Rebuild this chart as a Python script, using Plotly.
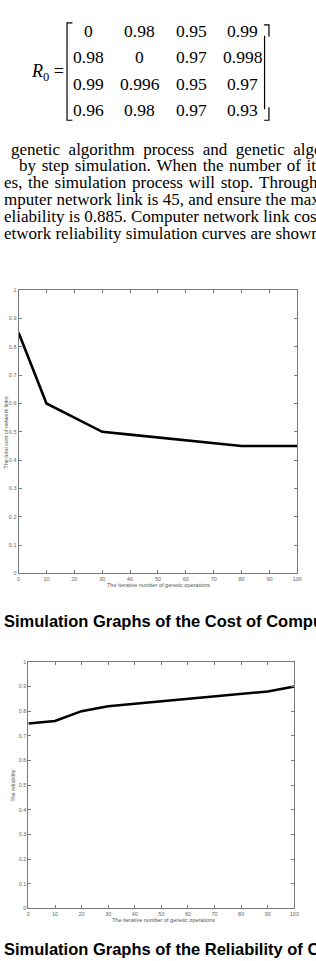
import plotly.graph_objects as go

W, H = 316, 961

# ---- data ----
iterations = [0, 10, 20, 30, 40, 50, 60, 70, 80, 90, 100]
cost = [0.85, 0.60, 0.55, 0.50, 0.49, 0.48, 0.47, 0.46, 0.45, 0.45, 0.45]
reliability = [0.75, 0.76, 0.80, 0.82, 0.83, 0.84, 0.85, 0.86, 0.87, 0.88, 0.90]
x_ticks = [0, 10, 20, 30, 40, 50, 60, 70, 80, 90, 100]
y_ticks = [0, 0.1, 0.2, 0.3, 0.4, 0.5, 0.6, 0.7, 0.8, 0.9, 1]

R0 = [["0", "0.98", "0.95", "0.99"],
      ["0.98", "0", "0.97", "0.998"],
      ["0.99", "0.996", "0.95", "0.97"],
      ["0.96", "0.98", "0.97", "0.93"]]

WIDE = "\u00a0\u00a0"
MID = "\u00a0\u200a"
paragraph = [
    WIDE.join("genetic algorithm process and genetic algorithm".split()),
    MID.join("by step simulation. When the number of iterations".split()),
    MID.join("es, the simulation process will stop. Through".split()),
    "mputer network link is 45, and ensure the maximum",
    "eliability is 0.885. Computer network link cost",
    "etwork reliability simulation curves are shown",
]
para_x = [7, 15, 0, 0, 0, 0]

caption1 = "Simulation Graphs of the Cost of Computer Network Links"
caption2 = "Simulation Graphs of the Reliability of Computer Network"
xtitle = "The iterative number of genetic operations"
ytitle1 = "The total cost of network links"
ytitle2 = "The reliability"


def px(x):
    return x / W


def py(y):
    return 1 - y / H


SERIF = "Liberation Serif"
SANS = "Liberation Sans"
AXC = "#7a7a7a"

fig = go.Figure()
fig.add_trace(go.Scatter(x=iterations, y=cost, mode="lines",
                         line=dict(color="black", width=2.6),
                         xaxis="x", yaxis="y", showlegend=False))
fig.add_trace(go.Scatter(x=iterations, y=reliability, mode="lines",
                         line=dict(color="black", width=2.6),
                         xaxis="x2", yaxis="y2", showlegend=False))


def axis(rng, dom, anchor, vals):
    return dict(range=rng, domain=dom, anchor=anchor, showline=True,
                linecolor=AXC, linewidth=1, mirror="ticks", ticks="inside",
                ticklen=3, tickcolor=AXC, tickvals=vals,
                tickfont=dict(size=5.5, color="#666", family=SANS),
                showgrid=False, zeroline=False, fixedrange=True)


annotations = []

# matrix
annotations.append(dict(x=px(47), y=py(70), xref="paper", yref="paper",
                        text="<i>R</i><sub>0</sub> =", showarrow=False,
                        font=dict(family=SERIF, size=18, color="black"),
                        xanchor="center", yanchor="middle"))
for i, row in enumerate(R0):
    for j, v in enumerate(row):
        annotations.append(dict(x=px(88 + 52.7 * j), y=py(28 + 26.6 * i),
                                xref="paper", yref="paper", text=v,
                                showarrow=False,
                                font=dict(family=SERIF, size=17.5, color="black"),
                                xanchor="center", yanchor="middle"))

# paragraph
for k, line in enumerate(paragraph):
    annotations.append(dict(x=px(para_x[k]), y=py(147 + 17 * k), xref="paper",
                            yref="paper", text=line, showarrow=False,
                            font=dict(family=SERIF, size=17, color="black"),
                            xanchor="left", yanchor="middle"))

# axis titles
annotations += [
    dict(x=px(160), y=py(586), text=xtitle, font=dict(size=5.5, family=SANS, color="#555")),
    dict(x=px(165), y=py(923), text=xtitle, font=dict(size=5.5, family=SANS, color="#555")),
    dict(x=px(4.5), y=py(432), text=ytitle1, textangle=-90,
         font=dict(size=5.5, family=SANS, color="#555")),
    dict(x=px(11), y=py(787), text=ytitle2, textangle=-90,
         font=dict(size=5.5, family=SANS, color="#555")),
]
for a in annotations[-4:]:
    a.update(xref="paper", yref="paper", showarrow=False,
             xanchor="center", yanchor="middle")

# captions
for cap, yy in [(caption1, 622), (caption2, 952)]:
    annotations.append(dict(x=0, y=py(yy), xref="paper", yref="paper",
                            text="<b>" + cap + "</b>", showarrow=False,
                            font=dict(family=SANS, size=16.5, color="black"),
                            xanchor="left", yanchor="middle"))

# matrix brackets
def path(pts):
    return " ".join(("M" if n == 0 else "L") + f" {px(x):.5f},{py(y):.5f}"
                    for n, (x, y) in enumerate(pts))

shapes = [
    dict(type="path", xref="paper", yref="paper",
         path=path([(72, 20), (66.5, 20), (66.5, 118), (72, 118)]),
         line=dict(color="black", width=1.2)),
    dict(type="path", xref="paper", yref="paper",
         path=path([(268, 22), (273, 22), (273, 34)]),
         line=dict(color="black", width=1.2)),
    dict(type="path", xref="paper", yref="paper",
         path=path([(268.5, 33), (268.5, 107)]),
         line=dict(color="black", width=1.2)),
    dict(type="path", xref="paper", yref="paper",
         path=path([(273, 105), (273, 118), (268, 118)]),
         line=dict(color="black", width=1.2)),
]

fig.update_layout(
    width=W, height=H, autosize=False,
    margin=dict(l=0, r=0, t=0, b=0, pad=0),
    paper_bgcolor="white", plot_bgcolor="white",
    xaxis=axis([0, 100], [px(17), px(302)], "y", x_ticks),
    yaxis=axis([0, 1], [py(574), py(289)], "x", y_ticks),
    xaxis2=axis([0, 100], [px(27), px(299)], "y2", x_ticks),
    yaxis2=axis([0, 1], [py(911), py(663)], "x2", y_ticks),
    annotations=annotations,
    shapes=shapes,
    showlegend=False,
)

fig.write_html("out.html")
